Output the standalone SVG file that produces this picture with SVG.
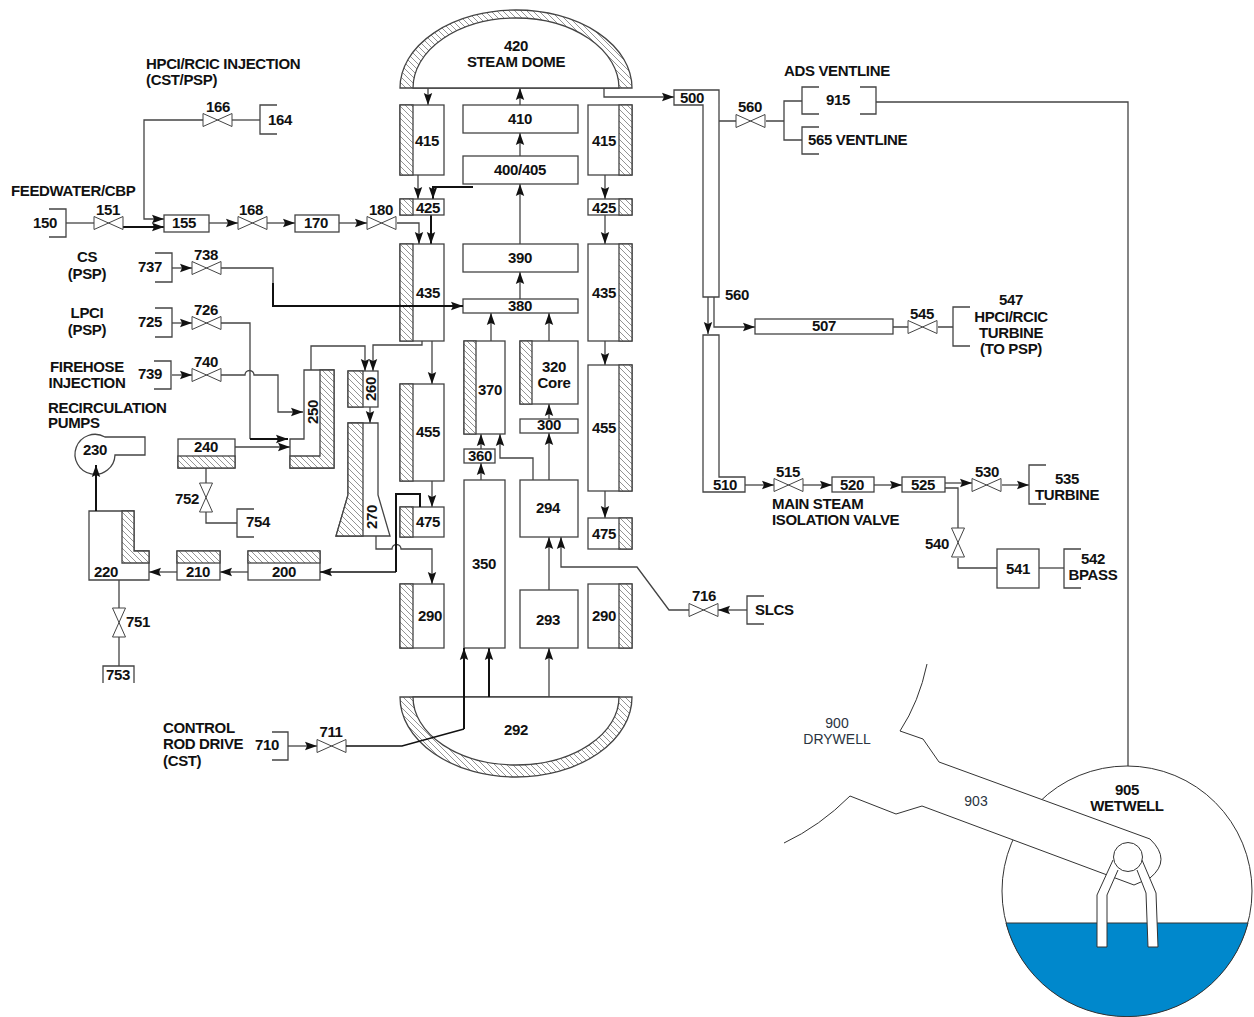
<svg xmlns="http://www.w3.org/2000/svg" width="1254" height="1017" viewBox="0 0 1254 1017">
<style>
text{font-family:"Liberation Sans",Arial,sans-serif;font-size:15px;font-weight:bold;fill:#111;text-anchor:middle;letter-spacing:-.35px}
.s{text-anchor:start}
.r{font-weight:normal;font-size:14px;fill:#2a3440;letter-spacing:0}
.b,.h,.o{stroke:#444;stroke-width:1.3;fill:#fff}
.h{fill:url(#hatch)}
.o{fill:none}
.c{fill:none;stroke:#444;stroke-width:1.3}
.t{fill:none;stroke:#111;stroke-width:2}
.m{fill:none;stroke:#111;stroke-width:1.5}
.a{marker-end:url(#arr)}
.v{fill:#fff;stroke:#444;stroke-width:1}
.w{stroke:#333;stroke-width:1;fill:#fff}
</style>
<defs>
<pattern id="hatch" patternUnits="userSpaceOnUse" width="6" height="6"><rect width="6" height="6" fill="#fff"/><path d="M-1,-1L7,7M-1,5L1,7M5,-1L7,1" stroke="#666" stroke-width=".7"/></pattern>
<marker id="arr" markerUnits="userSpaceOnUse" markerWidth="13" markerHeight="10" viewBox="0 0 13 10" refX="12" refY="5" orient="auto"><path d="M0,.8L12,5L0,9.200L2,5Z" fill="#111"/></marker>
<path id="vh" d="M0,-6.5L29,6.5V-6.5L0,6.5Z"/>
<path id="vv" d="M-6.5,0L6.5,29H-6.5L6.5,0Z"/>
</defs>

<g id="connectors">
<path class="c a" d="M428,88V105"/>
<path class="c a" d="M520,105V88"/>
<path class="c a" d="M520,156V133"/>
<path class="c a" d="M520,244V184"/>
<path class="c a" d="M520,299V272"/>
<path class="c a" d="M418,175V199"/>
<path class="t a" d="M473,187H433V199"/>
<path class="t a" d="M431,215V244"/>
<path class="c a" d="M397,223H419V244"/>
<path class="c a" d="M605,175V199"/>
<path class="c a" d="M605,215V244"/>
<path class="c a" d="M605,341V365"/>
<path class="c a" d="M605,491V518"/>
<path class="c a" d="M432,341V384"/>
<path class="c a" d="M432,481V507"/>
<path class="c a" d="M491,341V313"/>
<path class="c a" d="M549,341V313"/>
<path class="c a" d="M549,419V404"/>
<path class="c a" d="M549,480V433"/>
<path class="c a" d="M481,449V434"/>
<path class="c a" d="M481,480V463"/>
<path class="c a" d="M533,480V458H500V434"/>
<path class="c a" d="M549,590V537"/>
<path class="c a" d="M549,697V648"/>
<path class="t a" d="M489,697V648"/>
<path class="t a" d="M464,729V648"/>
<path class="c a" d="M689,610H669L637,567H561V537"/>
<path class="c a" d="M747,610H718"/>
<path class="c a" d="M288,746H317"/>
<path class="c a" d="M604,88V97H674"/>
<path class="c" d="M232,120H260"/>
<path class="c a" d="M203,120H144V219H164"/>
<path class="c" d="M66,223H94"/>
<path class="t a" d="M123,227H164"/>
<path class="c a" d="M209,223H238"/>
<path class="c a" d="M267,223H295"/>
<path class="c a" d="M339,223H367"/>
<path class="c a" d="M172,268H192"/>
<path class="c" d="M220,268H273V283"/>
<path class="c a" d="M172,323H192"/>
<path class="c" d="M220,323H250V439"/>
<path class="t a" d="M250,439H288"/>
<path class="c a" d="M172,375H192"/>
<path class="c a" d="M221,375H245A4.500,4.500 0 0 1 254,375H278V412H303"/>
<path class="c a" d="M235,447H290"/>
<path class="c a" d="M311,370V346H365V371"/>
<path class="c a" d="M422,341V345H373V371"/>
<path class="c a" d="M370,407V423"/>
<path class="c" d="M206,468V483M206,512V523H237"/>
<path class="c a" d="M177,572H149"/>
<path class="c a" d="M248,572H220"/>
<path class="c a" d="M376,536V549H392A4.500,4.500 0 0 1 401,549H432V584"/>
<path class="c" d="M119,580V608M119,637V666"/>
<path class="c" d="M719,121H736M766,121H784M802,101H784V140H802"/>
<path class="c" d="M876,102H1128V767"/>
<path class="c a" d="M708,297V334"/>
<path class="c a" d="M714,297V327H755"/>
<path class="c" d="M893,327H908M938,327H953"/>
<path class="c a" d="M745,485H774"/>
<path class="c a" d="M803,485H832"/>
<path class="c a" d="M874,485H902"/>
<path class="c a" d="M945,483H972"/>
<path class="c" d="M945,488H958V528M958,558V568H997"/>
<path class="c a" d="M1002,485H1029"/>
<path class="c" d="M1039,568H1064"/>
</g>

<g id="n420"><path class="h" d="M400,88A116,78 0 0 1 632,88Z"/><path class="b" d="M413,88A103,70 0 0 1 619,88Z"/><text x="516" y="51">420</text><text x="516" y="67">STEAM DOME</text></g>
<g id="n292"><path class="h" d="M400,697A116,80 0 0 0 632,697Z"/><path class="b" d="M413,697A103,68 0 0 0 619,697Z"/><text x="516" y="735">292</text></g>

<g id="n415l"><rect class="b" x="400" y="105" width="44" height="70"/><rect class="h" x="400" y="105" width="13" height="70"/><text x="427" y="146">415</text></g>
<g id="n415r"><rect class="b" x="588" y="105" width="44" height="70"/><rect class="h" x="619" y="105" width="13" height="70"/><text x="604" y="146">415</text></g>
<g id="n410"><rect class="b" x="463" y="105" width="115" height="28"/><text x="520" y="124">410</text></g>
<g id="n400"><rect class="b" x="463" y="156" width="115" height="28"/><text x="520" y="175">400/405</text></g>
<g id="n425l"><rect class="b" x="400" y="199" width="44" height="16"/><rect class="h" x="400" y="199" width="13" height="16"/><text x="428" y="213">425</text></g>
<g id="n425r"><rect class="b" x="588" y="199" width="44" height="16"/><rect class="h" x="619" y="199" width="13" height="16"/><text x="604" y="213">425</text></g>
<g id="n435l"><rect class="b" x="400" y="244" width="44" height="97"/><rect class="h" x="400" y="244" width="13" height="97"/><text x="428" y="298">435</text></g>
<g id="n435r"><rect class="b" x="588" y="244" width="44" height="97"/><rect class="h" x="619" y="244" width="13" height="97"/><text x="604" y="298">435</text></g>
<g id="n390"><rect class="b" x="463" y="244" width="115" height="28"/><text x="520" y="263">390</text></g>
<g id="n380"><rect class="b" x="463" y="299" width="115" height="14"/><text x="520" y="311">380</text></g>
<g id="n370"><rect class="b" x="464" y="341" width="41" height="93"/><rect class="h" x="464" y="341" width="12" height="93"/><text x="490" y="395">370</text></g>
<g id="n320"><rect class="b" x="520" y="341" width="58" height="63"/><rect class="h" x="520" y="341" width="12" height="63"/><text x="554" y="372">320</text><text x="554" y="388">Core</text></g>
<g id="n300"><rect class="b" x="520" y="419" width="58" height="14"/><text x="549" y="430">300</text></g>
<g id="n360"><rect class="b" x="464" y="449" width="31" height="14"/><text x="480" y="461">360</text></g>
<g id="n350"><rect class="b" x="464" y="480" width="41" height="168"/><text x="484" y="569">350</text></g>
<g id="n294"><rect class="b" x="520" y="480" width="58" height="57"/><text x="548" y="513">294</text></g>
<g id="n293"><rect class="b" x="520" y="590" width="58" height="58"/><text x="548" y="625">293</text></g>
<g id="n455l"><rect class="b" x="400" y="384" width="44" height="97"/><rect class="h" x="400" y="384" width="13" height="97"/><text x="428" y="437">455</text></g>
<g id="n455r"><rect class="b" x="588" y="365" width="44" height="126"/><rect class="h" x="619" y="365" width="13" height="126"/><text x="604" y="433">455</text></g>
<g id="n475l"><rect class="b" x="400" y="507" width="44" height="30"/><rect class="h" x="400" y="507" width="13" height="30"/><text x="428" y="527">475</text></g>
<g id="n475r"><rect class="b" x="588" y="518" width="44" height="31"/><rect class="h" x="619" y="518" width="13" height="31"/><text x="604" y="539">475</text></g>
<g id="n290l"><rect class="b" x="400" y="584" width="44" height="64"/><rect class="h" x="400" y="584" width="13" height="64"/><text x="430" y="621">290</text></g>
<g id="n290r"><rect class="b" x="588" y="584" width="44" height="64"/><rect class="h" x="619" y="584" width="13" height="64"/><text x="604" y="621">290</text></g>

<g id="n164"><path class="o" d="M277,105H260V134H277"/><text x="280" y="125">164</text></g>
<g id="v166"><use class="v" href="#vh" x="203" y="120"/><text x="218" y="112">166</text></g>
<g id="lbl-hpci"><text class="s" x="146" y="69">HPCI/RCIC INJECTION</text><text class="s" x="146" y="85">(CST/PSP)</text></g>
<g id="lbl-fw"><text class="s" x="11" y="196">FEEDWATER/CBP</text></g>
<g id="n150"><path class="o" d="M49,209H66V237H49"/><text x="45" y="228">150</text></g>
<g id="v151"><use class="v" href="#vh" x="94" y="223"/><text x="108" y="215">151</text></g>
<g id="n155"><rect class="b" x="164" y="215" width="45" height="17"/><text x="184" y="228">155</text></g>
<g id="v168"><use class="v" href="#vh" x="238" y="223"/><text x="251" y="215">168</text></g>
<g id="n170"><rect class="b" x="295" y="215" width="44" height="17"/><text x="316" y="228">170</text></g>
<g id="v180"><use class="v" href="#vh" x="367" y="223"/><text x="381" y="215">180</text></g>
<g id="n737"><path class="o" d="M155,253H172V282H155"/><text x="150" y="272">737</text><text x="87" y="262">CS</text><text x="87" y="279">(PSP)</text></g>
<g id="v738"><use class="v" href="#vh" x="192" y="268"/><text x="206" y="260">738</text></g>
<g id="n725"><path class="o" d="M155,308H172V337H155"/><text x="150" y="327">725</text><text x="87" y="318">LPCI</text><text x="87" y="335">(PSP)</text></g>
<g id="v726"><use class="v" href="#vh" x="192" y="323"/><text x="206" y="315">726</text></g>
<g id="n739"><path class="o" d="M154,361H171V389H154"/><text x="150" y="379">739</text><text x="87" y="372">FIREHOSE</text><text x="87" y="388">INJECTION</text></g>
<g id="v740"><use class="v" href="#vh" x="192" y="375"/><text x="206" y="367">740</text></g>
<g id="lbl-recirc"><text class="s" x="48" y="413">RECIRCULATION</text><text class="s" x="48" y="428">PUMPS</text></g>
<g id="n230"><path class="b" d="M105,437H145V455H115A20,20 0 1 1 105,437Z"/><text x="95" y="455">230</text></g>
<g id="n240"><rect class="b" x="178" y="439" width="57" height="29"/><rect class="h" x="178" y="456" width="57" height="12"/><text x="206" y="452">240</text></g>
<g id="n250"><path class="b" d="M304,370H334V468H290V439H304Z"/><path class="h" d="M320,370H334V468H290V456H320Z"/><text transform="translate(318,412) rotate(-90)">250</text></g>
<g id="n260"><rect class="b" x="348" y="371" width="30" height="36"/><rect class="h" x="348" y="371" width="15" height="36"/><text transform="translate(376,389) rotate(-90)">260</text></g>
<g id="n270"><path class="b" d="M348,423H378V495L390,536H336L348,495Z"/><path class="h" d="M348,423H363V536H336L348,495Z"/><text transform="translate(377,517) rotate(-90)">270</text></g>
<g id="v752"><use class="v" href="#vv" x="206" y="483"/><text x="187" y="504">752</text></g>
<g id="n754"><path class="o" d="M254,509H237V537H254"/><text x="258" y="527">754</text></g>
<g id="n220"><path class="b" d="M89,511H134V551H149V580H89Z"/><path class="h" d="M122,511H134V551H149V563H122Z"/><text x="106" y="577">220</text></g>
<g id="n210"><rect class="b" x="177" y="551" width="43" height="29"/><rect class="h" x="177" y="551" width="43" height="12"/><text x="198" y="577">210</text></g>
<g id="n200"><rect class="b" x="248" y="551" width="72" height="29"/><rect class="h" x="248" y="551" width="72" height="12"/><text x="284" y="577">200</text></g>
<g id="v751"><use class="v" href="#vv" x="119" y="608"/><text x="138" y="627">751</text></g>
<g id="n753"><path class="o" d="M103,683V666H134V683"/><text x="118" y="680">753</text></g>
<g id="n710"><path class="o" d="M272,732H288V760H272"/><text x="267" y="750">710</text></g>
<g id="lbl-crd"><text class="s" x="163" y="733">CONTROL</text><text class="s" x="163" y="749">ROD DRIVE</text><text class="s" x="163" y="766">(CST)</text></g>
<g id="v711"><use class="v" href="#vh" x="317" y="746"/><text x="331" y="737">711</text></g>
<g id="v716"><use class="v" href="#vh" x="689" y="610"/><text x="704" y="601">716</text></g>
<g id="nslcs"><path class="o" d="M764,596H747V624H764"/><text class="s" x="755" y="615">SLCS</text></g>

<g id="n500"><path class="b" d="M674,90H719V297H703V105H674Z"/><text x="692" y="103">500</text></g>
<text x="737" y="300">560</text>
<g id="v560"><use class="v" href="#vh" x="736" y="121"/><text x="750" y="112">560</text></g>
<g id="n915"><path class="o" d="M819,87H802V114H819M860,87H876V114H860"/><text x="838" y="105">915</text><text class="s" x="784" y="76">ADS VENTLINE</text></g>
<g id="n565"><path class="o" d="M819,127H802V154H819"/><text class="s" x="808" y="145">565 VENTLINE</text></g>
<g id="n507"><rect class="b" x="755" y="319" width="138" height="15"/><text x="824" y="331">507</text></g>
<g id="v545"><use class="v" href="#vh" x="908" y="327"/><text x="922" y="319">545</text></g>
<g id="n547"><path class="o" d="M970,307H953V346H970"/><text x="1011" y="305">547</text><text x="1011" y="322">HPCI/RCIC</text><text x="1011" y="338">TURBINE</text><text x="1011" y="354">(TO PSP)</text></g>
<g id="n510"><path class="b" d="M703,335H719V477H745V492H703Z"/><text x="725" y="490">510</text></g>
<g id="v515"><use class="v" href="#vh" x="774" y="485"/><text x="788" y="477">515</text><text class="s" x="772" y="509">MAIN STEAM</text><text class="s" x="772" y="525">ISOLATION VALVE</text></g>
<g id="n520"><rect class="b" x="832" y="477" width="42" height="15"/><text x="852" y="490">520</text></g>
<g id="n525"><rect class="b" x="902" y="477" width="43" height="15"/><text x="923" y="490">525</text></g>
<g id="v530"><use class="v" href="#vh" x="972" y="485"/><text x="987" y="477">530</text></g>
<g id="n535"><path class="o" d="M1046,465H1029V504H1046"/><text x="1067" y="484">535</text><text x="1067" y="500">TURBINE</text></g>
<g id="v540"><use class="v" href="#vv" x="958" y="528"/><text x="937" y="549">540</text></g>
<g id="n541"><rect class="b" x="997" y="549" width="42" height="39"/><text x="1018" y="574">541</text></g>
<g id="n542"><path class="o" d="M1081,549H1064V588H1081"/><text x="1093" y="564">542</text><text x="1093" y="580">BPASS</text></g>

<g id="overlay-connectors">
<path class="m" d="M346,746H402L464,729"/>
<path class="t" d="M464,729V648M489,697V660"/>
<path class="t a" d="M273,283V306H463"/>
<path class="t" d="M420,507V494H396V572"/>
<path class="m a" d="M396,572H320"/>
<path class="t a" d="M96,511V465"/>
</g>

<g id="n905">
<circle cx="1127" cy="891" r="125" fill="#fff" stroke="#333" stroke-width="1"/>
<path d="M1006,923H1248A125,125 0 0 1 1006,923Z" fill="#0088cc" stroke="#333" stroke-width="1"/>
<text x="1127" y="795">905</text><text x="1127" y="811">WETWELL</text>
</g>
<g id="n903">
<path d="M939,762L1150,839Q1172,860 1150,878L1134,885L922,806Z" fill="#fff"/>
<path class="w" style="fill:none" d="M927,664Q919,702 900,731L923,739L939,762L1150,839Q1172,860 1150,878L1134,885L922,806L896,814L850,796Q820,826 784,843"/>
<path class="w" d="M1113,860L1097,895V947H1107V895L1118,870"/>
<path class="w" d="M1142,860L1156,893L1158,947H1148L1146,893L1137,870"/>
<circle class="w" cx="1128" cy="857" r="14.500"/>
<text class="r" x="976" y="806">903</text>
</g>
<g id="n900"><text class="r" x="837" y="728">900</text><text class="r" x="837" y="744">DRYWELL</text></g>
</svg>
